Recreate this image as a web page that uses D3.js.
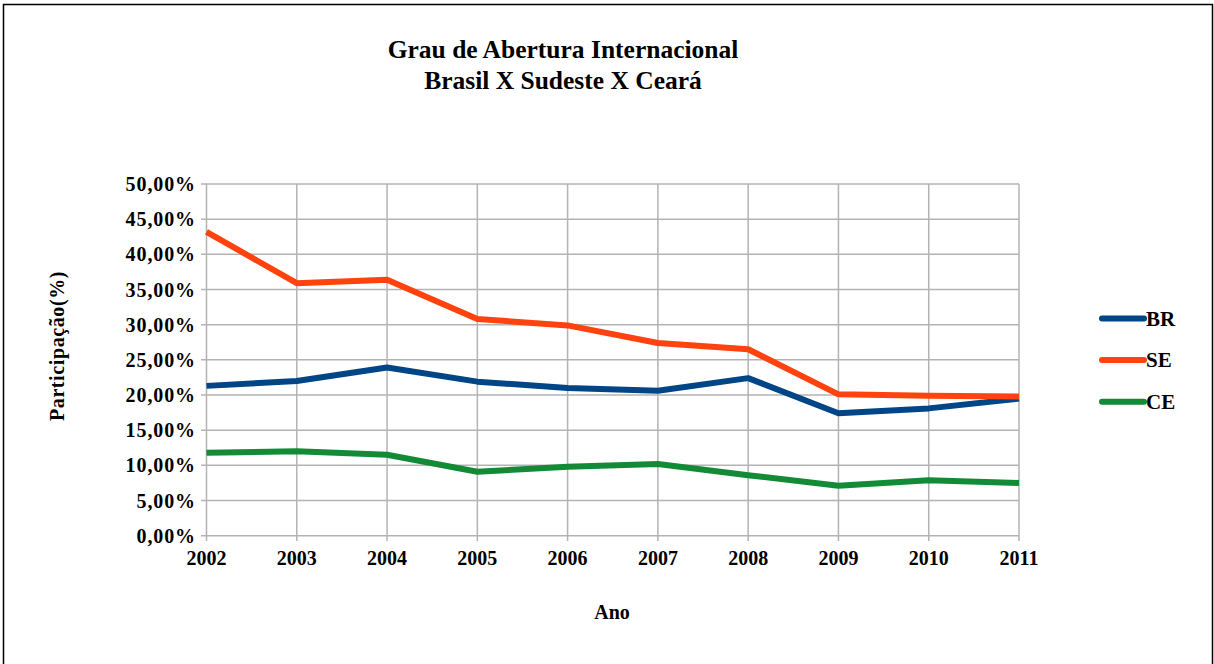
<!DOCTYPE html>
<html><head><meta charset="utf-8">
<script src="https://cdn.jsdelivr.net/npm/d3@7/dist/d3.min.js"></script>
<style>body{margin:0;background:#fff}svg{display:block}</style>
</head><body>
<svg id="c" width="1214" height="664"></svg>
<script>
const years = [2002,2003,2004,2005,2006,2007,2008,2009,2010,2011];
const seriesNames = ["BR","SE","CE"];
const brValues = [21.3,22.0,23.9,21.9,21.0,20.6,22.4,17.4,18.1,19.5];
const seValues = [43.2,35.9,36.4,30.8,29.9,27.4,26.5,20.1,19.9,19.8];
const ceValues = [11.8,12.0,11.5,9.1,9.8,10.2,8.6,7.1,7.9,7.5];
const colors = ["#004586","#ff420e","#138a36"];
const yTicks = [0,5,10,15,20,25,30,35,40,45,50];
const titleLines = ["Grau de Abertura Internacional","Brasil X Sudeste X Ceará"];

const series = [brValues, seValues, ceValues];
const svg = d3.select("#c");
const font = "'Liberation Serif','Times New Roman',serif";

// frame
svg.append("rect").attr("x",3.5).attr("y",4.5).attr("width",1209).attr("height",670)
  .attr("fill","none").attr("stroke","#000").attr("stroke-width",1.5);

const x = d3.scalePoint().domain(years).range([206.5,1019]);
const y = d3.scaleLinear().domain([0,50]).range([535.7,184]);

// grid
const g = svg.append("g");
g.selectAll(".hg").data(yTicks).join("line")
  .attr("x1",201).attr("x2",1019).attr("y1",d=>y(d)).attr("y2",d=>y(d))
  .attr("stroke","#b3b3b3").attr("stroke-width",1.5);
g.selectAll(".vg").data(years).join("line")
  .attr("x1",d=>x(d)).attr("x2",d=>x(d)).attr("y1",184).attr("y2",541)
  .attr("stroke","#b3b3b3").attr("stroke-width",1.5);

// y labels
g.selectAll(".yl").data(yTicks).join("text")
  .attr("x",196).attr("y",d=>y(d)).attr("dy","0.35em").attr("text-anchor","end")
  .attr("font-family",font).attr("font-weight","bold").attr("font-size",20)
  .attr("letter-spacing",0.9)
  .text(d=>d3.format(".2f")(d).replace(".",",")+"%");
// x labels
g.selectAll(".xl").data(years).join("text")
  .attr("x",d=>x(d)).attr("y",565).attr("text-anchor","middle")
  .attr("font-family",font).attr("font-weight","bold").attr("font-size",20)
  .text(d=>d);

// lines
const line = d3.line().x((d,i)=>x(years[i])).y(d=>y(d));
series.forEach((s,i)=>{
  svg.append("path").attr("d",line(s)).attr("fill","none")
    .attr("stroke",colors[i]).attr("stroke-width",6).attr("stroke-linejoin","round");
});

// title
titleLines.forEach((t,i)=>{
  svg.append("text").attr("x",563).attr("y",58+i*31).attr("text-anchor","middle")
    .attr("font-family",font).attr("font-weight","bold").attr("font-size",25.5).text(t);
});

// axis titles
svg.append("text").attr("x",612).attr("y",619).attr("text-anchor","middle")
  .attr("font-family",font).attr("font-weight","bold").attr("font-size",20).text("Ano");
svg.append("text").attr("transform","translate(64,346) rotate(-90)").attr("text-anchor","middle")
  .attr("font-family",font).attr("font-weight","bold").attr("font-size",20)
  .attr("letter-spacing",0.6).text("Participação(%)");

// legend
const legendY = [318.5,360,401.7];
seriesNames.forEach((n,i)=>{
  svg.append("line").attr("x1",1102).attr("x2",1144).attr("y1",legendY[i]).attr("y2",legendY[i])
    .attr("stroke",colors[i]).attr("stroke-width",6).attr("stroke-linecap","round");
  svg.append("text").attr("x",1146).attr("y",legendY[i]).attr("dy","0.35em")
    .attr("font-family",font).attr("font-weight","bold").attr("font-size",21).text(n);
});
</script>
</body></html>
